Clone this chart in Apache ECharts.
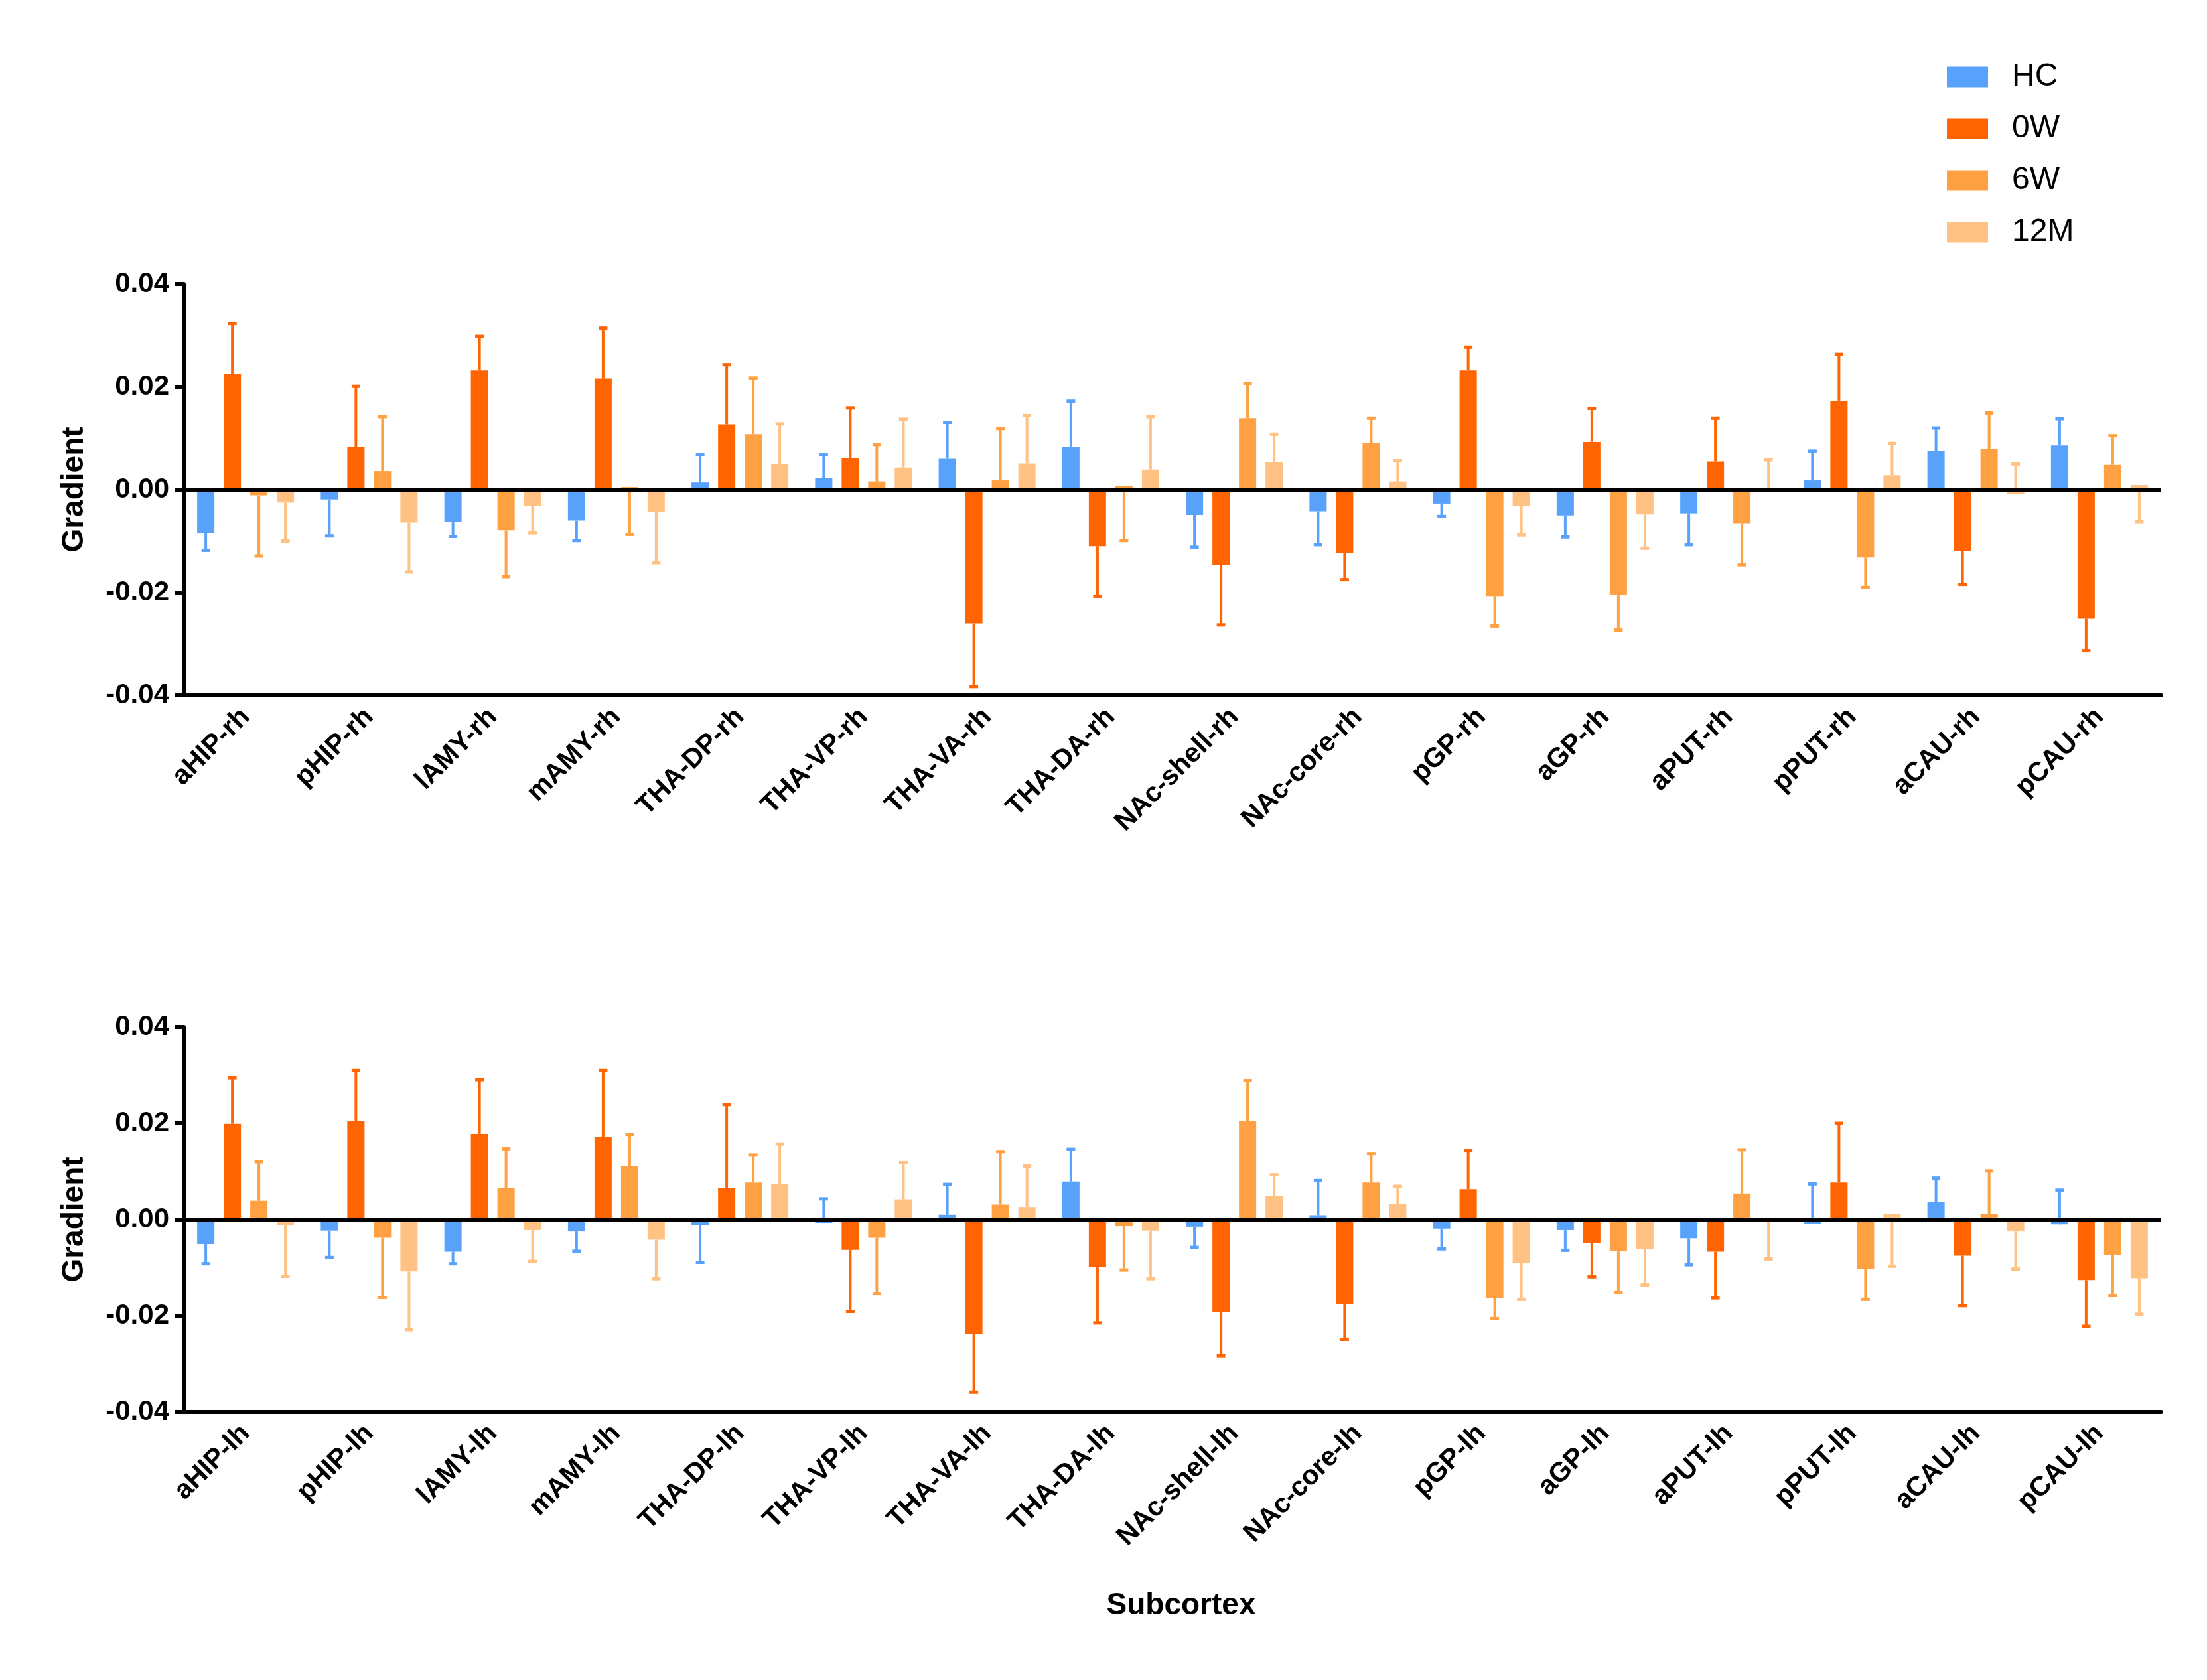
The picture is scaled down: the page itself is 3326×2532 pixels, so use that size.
<!DOCTYPE html>
<html>
<head>
<meta charset="utf-8">
<script src="https://cdn.jsdelivr.net/npm/echarts@6/dist/echarts.min.js"></script>
<style>
html,body{margin:0;padding:0;background:#fff;}
#chart{width:3326px;height:2532px;}
</style>
</head>
<body>
<div id="chart"></div>
<script>
const groups = ['HC', '0W', '6W', '12M'];
const colors = ['#58A2FB', '#FF6400', '#FFA142', '#FFC283'];
const regions = ['aHIP','pHIP','lAMY','mAMY','THA-DP','THA-VP','THA-VA','THA-DA','NAc-shell','NAc-core','pGP','aGP','aPUT','pPUT','aCAU','pCAU'];
const catsRh = regions.map(r => r + '-rh');
const catsLh = regions.map(r => r + '-lh');
const yTicks = [-0.04, -0.02, 0.00, 0.02, 0.04];

// right hemisphere (top panel): means and error-bar end values
const rhHC      = [-0.0084, -0.0019, -0.0062, -0.0060, 0.0014, 0.0022, 0.0060, 0.0084, -0.0049, -0.0042, -0.0027, -0.0050, -0.0046, 0.0018, 0.0075, 0.0086];
const rhHCErr   = [-0.0118, -0.0090, -0.0091, -0.0099, 0.0068, 0.0069, 0.0131, 0.0172, -0.0112, -0.0107, -0.0052, -0.0092, -0.0107, 0.0075, 0.0120, 0.0138];
const rh0W      = [0.0225, 0.0083, 0.0232, 0.0216, 0.0127, 0.0061, -0.0260, -0.0110, -0.0146, -0.0124, 0.0232, 0.0093, 0.0055, 0.0173, -0.0120, -0.0251];
const rh0WErr   = [0.0323, 0.0201, 0.0298, 0.0314, 0.0243, 0.0159, -0.0383, -0.0207, -0.0263, -0.0175, 0.0277, 0.0158, 0.0139, 0.0263, -0.0184, -0.0313];
const rh6W      = [-0.0011, 0.0036, -0.0079, 0.0005, 0.0108, 0.0016, 0.0018, 0.0007, 0.0139, 0.0091, -0.0208, -0.0204, -0.0065, -0.0132, 0.0079, 0.0048];
const rh6WErr   = [-0.0129, 0.0142, -0.0169, -0.0087, 0.0217, 0.0088, 0.0119, -0.0099, 0.0206, 0.0139, -0.0265, -0.0273, -0.0146, -0.0190, 0.0149, 0.0105];
const rh12M     = [-0.0025, -0.0064, -0.0032, -0.0043, 0.0050, 0.0043, 0.0051, 0.0039, 0.0054, 0.0016, -0.0031, -0.0048, 0.0003, 0.0028, -0.0009, 0.0009];
const rh12MErr  = [-0.0100, -0.0160, -0.0084, -0.0142, 0.0128, 0.0137, 0.0144, 0.0142, 0.0108, 0.0056, -0.0088, -0.0114, 0.0058, 0.0090, 0.0050, -0.0062];

// left hemisphere (bottom panel)
const lhHC      = [-0.0051, -0.0023, -0.0067, -0.0025, -0.0012, -0.0007, 0.0010, 0.0079, -0.0015, 0.0009, -0.0019, -0.0022, -0.0039, -0.0009, 0.0037, -0.0010];
const lhHCErr   = [-0.0092, -0.0079, -0.0092, -0.0066, -0.0089, 0.0043, 0.0073, 0.0146, -0.0058, 0.0081, -0.0061, -0.0064, -0.0094, 0.0074, 0.0086, 0.0061];
const lh0W      = [0.0199, 0.0205, 0.0178, 0.0171, 0.0066, -0.0063, -0.0238, -0.0098, -0.0193, -0.0175, 0.0063, -0.0049, -0.0067, 0.0077, -0.0075, -0.0126];
const lh0WErr   = [0.0295, 0.0310, 0.0291, 0.0310, 0.0239, -0.0191, -0.0359, -0.0215, -0.0283, -0.0249, 0.0144, -0.0119, -0.0163, 0.0200, -0.0179, -0.0222];
const lh6W      = [0.0039, -0.0038, 0.0066, 0.0111, 0.0077, -0.0038, 0.0031, -0.0014, 0.0205, 0.0077, -0.0164, -0.0066, 0.0054, -0.0102, 0.0011, -0.0073];
const lh6WErr   = [0.0120, -0.0162, 0.0147, 0.0177, 0.0134, -0.0154, 0.0141, -0.0105, 0.0289, 0.0137, -0.0206, -0.0151, 0.0145, -0.0166, 0.0101, -0.0158];
const lh12M     = [-0.0011, -0.0108, -0.0022, -0.0042, 0.0073, 0.0042, 0.0026, -0.0023, 0.0049, 0.0033, -0.0091, -0.0062, -0.0005, 0.0011, -0.0025, -0.0122];
const lh12MErr  = [-0.0118, -0.0229, -0.0087, -0.0123, 0.0157, 0.0118, 0.0111, -0.0123, 0.0093, 0.0069, -0.0166, -0.0136, -0.0082, -0.0097, -0.0103, -0.0197];

const rhMeans = [rhHC, rh0W, rh6W, rh12M];
const rhErrs  = [rhHCErr, rh0WErr, rh6WErr, rh12MErr];
const lhMeans = [lhHC, lh0W, lh6W, lh12M];
const lhErrs  = [lhHCErr, lh0WErr, lh6WErr, lh12MErr];

const FONT = "'Liberation Sans', Arial, Helvetica, sans-serif";
const BAR_W = 26, BAR_STEP = 40;

function xAxisCfg(gi, cats) {
  return {
    type: 'category', gridIndex: gi, data: cats,
    axisLine: { onZero: false, lineStyle: { color: '#000', width: 6 } },
    axisTick: { alignWithLabel: true, length: 14, lineStyle: { color: '#000', width: 6 } },
    axisLabel: { rotate: 45, fontSize: 41, fontWeight: 'bold', color: '#000', fontFamily: FONT, margin: 26, interval: 0 },
    splitLine: { show: false }
  };
}
function yAxisCfg(gi) {
  return {
    type: 'value', gridIndex: gi, min: -0.04, max: 0.04, interval: 0.02,
    name: 'Gradient', nameLocation: 'middle', nameRotate: 90, nameGap: 142,
    nameTextStyle: { fontSize: 46, fontWeight: 'bold', color: '#000', fontFamily: FONT },
    axisLine: { show: true, lineStyle: { color: '#000', width: 6 } },
    axisTick: { show: true, length: 14, lineStyle: { color: '#000', width: 6 } },
    axisLabel: { fontSize: 42, fontWeight: 'bold', color: '#000', fontFamily: FONT, margin: 22,
      formatter: v => (Math.abs(v) < 1e-9 ? 0 : v).toFixed(2) },
    splitLine: { show: false }
  };
}

const series = [];
function addPanel(gi, means, errs) {
  means.forEach((vals, j) => {
    series.push({
      type: 'bar', name: groups[j], xAxisIndex: gi, yAxisIndex: gi,
      data: vals, barWidth: BAR_W, barGap: ((BAR_STEP - BAR_W) / BAR_W * 100) + '%',
      itemStyle: { color: colors[j] }, z: 2, animation: false
    });
  });
  means.forEach((vals, j) => {
    series.push({
      type: 'custom', name: groups[j] + ' err', xAxisIndex: gi, yAxisIndex: gi,
      data: vals.map((m, i) => [i, m, errs[j][i]]),
      encode: { x: 0, y: [1, 2] }, z: 1, animation: false, silent: true,
      renderItem: (params, api) => {
        const p0 = api.coord([api.value(0), api.value(1)]);
        const p1 = api.coord([api.value(0), api.value(2)]);
        const x = p0[0] + (j - 1.5) * BAR_STEP;
        return { type: 'group', children: [
          { type: 'line', shape: { x1: x, y1: p0[1], x2: x, y2: p1[1] }, style: { stroke: colors[j], lineWidth: 4 } },
          { type: 'line', shape: { x1: x - 6.5, y1: p1[1], x2: x + 6.5, y2: p1[1] }, style: { stroke: colors[j], lineWidth: 5 } }
        ] };
      }
    });
  });
  // zero reference line
  series.push({
    type: 'line', name: 'zero' + gi, xAxisIndex: gi, yAxisIndex: gi, data: [], z: 5,
    markLine: { silent: true, symbol: 'none', label: { show: false }, animation: false,
      lineStyle: { color: '#000', width: 6, type: 'solid' }, data: [{ yAxis: 0 }] }
  });
}
addPanel(0, rhMeans, rhErrs);
addPanel(1, lhMeans, lhErrs);

const chart = echarts.init(document.getElementById('chart'));
chart.setOption({
  backgroundColor: '#fff',
  animation: false,
  grid: [
    { left: 277, width: 2980, top: 428, height: 620 },
    { left: 277, width: 2980, top: 1548, height: 580 }
  ],
  legend: {
    data: groups, orient: 'vertical', left: 2934, top: 92, itemWidth: 62, itemHeight: 31, itemGap: 30,
    icon: 'rect', padding: 0,
    textStyle: { fontSize: 48, color: '#000', fontFamily: FONT, lineHeight: 48, padding: [0, 0, 0, 31] }
  },
  xAxis: [xAxisCfg(0, catsRh), xAxisCfg(1, catsLh)],
  yAxis: [yAxisCfg(0), yAxisCfg(1)],
  graphic: [{
    type: 'text', x: 1780, y: 2420,
    style: { text: 'Subcortex', font: "bold 46px " + FONT, fill: '#000', textAlign: 'center', textVerticalAlign: 'middle' }
  }],
  series: series
});
</script>
</body>
</html>
